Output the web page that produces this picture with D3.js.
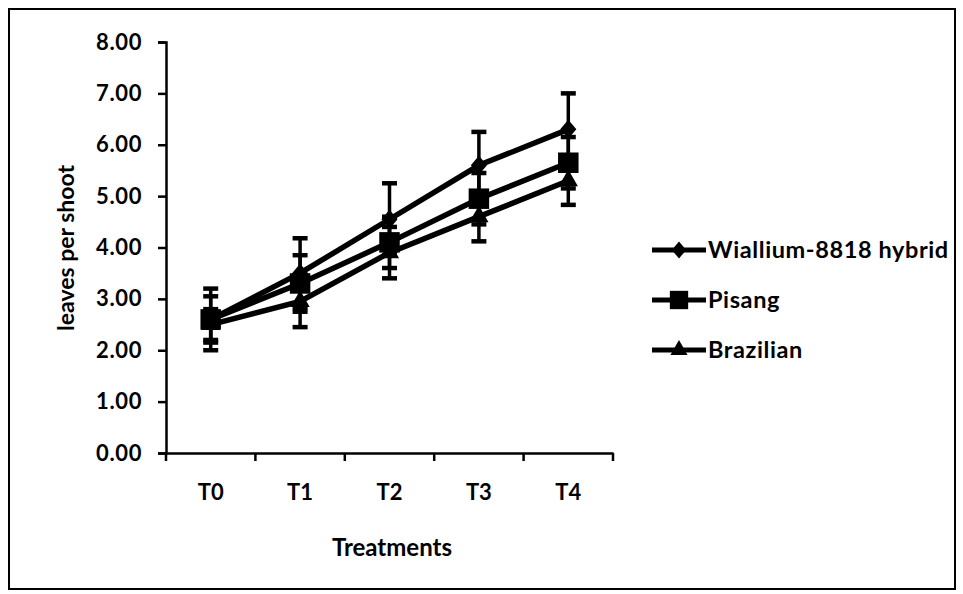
<!DOCTYPE html>
<html><head><meta charset="utf-8">
<script src="https://cdn.jsdelivr.net/npm/d3@7"></script>
<style>body{margin:0;background:#fff}svg{display:block}text{font-family:Lato,"Open Sans",sans-serif;font-weight:bold;fill:#000}</style>
</head><body><svg id="c" width="963" height="594"></svg>
<script>
const categories = ["T0","T1","T2","T3","T4"];
const seriesNames = ["Wiallium-8818 hybrid","Pisang","Brazilian"];
const wialliumValues = [2.6, 3.5, 4.55, 5.6, 6.3];
const wialliumErrors = [0.6, 0.68, 0.7, 0.65, 0.7];
const pisangValues = [2.6, 3.3, 4.1, 4.95, 5.65];
const pisangErrors = [0.45, 0.55, 0.5, 0.5, 0.5];
const brazilianValues = [2.5, 2.95, 3.9, 4.6, 5.3];
const brazilianErrors = [0.3, 0.5, 0.5, 0.48, 0.47];
const yTicks = [0,1,2,3,4,5,6,7,8];
const xTitle = "Treatments";
const yTitle = "leaves per shoot";

const diamond = {draw(ctx, size){ const r = Math.sqrt(size/2); ctx.moveTo(0,-r); ctx.lineTo(r*0.85,0); ctx.lineTo(0,r); ctx.lineTo(-r*0.85,0); ctx.closePath(); }};
const series = [
  {name: seriesNames[0], values: wialliumValues, errors: wialliumErrors, symbol: diamond, size: 180},
  {name: seriesNames[1], values: pisangValues, errors: pisangErrors, symbol: d3.symbolSquare, size: 420},
  {name: seriesNames[2], values: brazilianValues, errors: brazilianErrors, symbol: d3.symbolTriangle, size: 160}
];

const svg = d3.select("#c");
svg.append("rect").attr("x",9).attr("y",9).attr("width",946).attr("height",580)
  .attr("fill","none").attr("stroke","#000").attr("stroke-width",2);

const pLeft = 166, pRight = 613, pTop = 42, pBottom = 453;
const x = d3.scaleBand().domain(categories).range([pLeft, pRight]);
const y = d3.scaleLinear().domain([0, 8]).range([pBottom, pTop]);

// y axis
const ya = svg.append("g").attr("transform", `translate(${pLeft},0)`)
  .call(d3.axisLeft(y).tickValues(yTicks).tickFormat(d3.format(".2f")).tickSize(8).tickPadding(16));
ya.select(".domain").attr("stroke-width",2.5);
ya.selectAll(".tick line").attr("stroke-width",2.5);
ya.selectAll("text").attr("font-size",22).attr("letter-spacing","0.6px");

// x axis
const xa = svg.append("g").attr("transform", `translate(0,${pBottom})`)
  .call(d3.axisBottom(x).tickSize(0).tickPadding(31));
xa.select(".domain").attr("stroke-width",2.5);
xa.selectAll("text").attr("font-size",22);
// category boundary ticks
const bounds = categories.map(c => x(c)).concat([x.range()[1]]);
svg.append("g").selectAll("line").data(bounds).join("line")
  .attr("x1", d => d).attr("x2", d => d).attr("y1", pBottom).attr("y2", pBottom + 8)
  .attr("stroke","#000").attr("stroke-width",2.5);

svg.append("text").attr("x", 392).attr("y", 556).attr("text-anchor","middle")
  .attr("font-size",24).text(xTitle);
svg.append("text").attr("transform","translate(74,248) rotate(-90)").attr("text-anchor","middle")
  .attr("font-size",23).text(yTitle);

const cx = c => x(c) + x.bandwidth()/2;
const line = d3.line().x((d,i) => cx(categories[i])).y(d => y(d));

series.forEach(s => {
  const g = svg.append("g");
  s.values.forEach((v,i) => {
    const px = cx(categories[i]);
    const e = s.errors[i];
    g.append("line").attr("x1",px).attr("x2",px).attr("y1",y(v+e)).attr("y2",y(v-e))
      .attr("stroke","#000").attr("stroke-width",3.5);
    [v+e, v-e].forEach(t => g.append("line").attr("x1",px-7.5).attr("x2",px+7.5)
      .attr("y1",y(t)).attr("y2",y(t)).attr("stroke","#000").attr("stroke-width",4.5));
  });
  g.append("path").attr("d", line(s.values)).attr("fill","none").attr("stroke","#000").attr("stroke-width",5.5);
  g.selectAll("path.m").data(s.values).join("path").attr("class","m")
    .attr("transform",(d,i) => `translate(${cx(categories[i])},${y(d)})`)
    .attr("d", d3.symbol().type(s.symbol).size(s.size)).attr("fill","#000");
});

// legend
const lg = svg.append("g");
series.forEach((s,i) => {
  const ly = 250 + i*50;
  lg.append("line").attr("x1",652).attr("x2",706).attr("y1",ly).attr("y2",ly).attr("stroke","#000").attr("stroke-width",5);
  lg.append("path").attr("transform",`translate(679,${ly})`).attr("d", d3.symbol().type(s.symbol).size(s.size*0.8)).attr("fill","#000");
  lg.append("text").attr("x",708).attr("y",ly).attr("dy","0.35em").attr("font-size",23.5).attr("letter-spacing","0.6px").text(s.name);
});
</script></body></html>
